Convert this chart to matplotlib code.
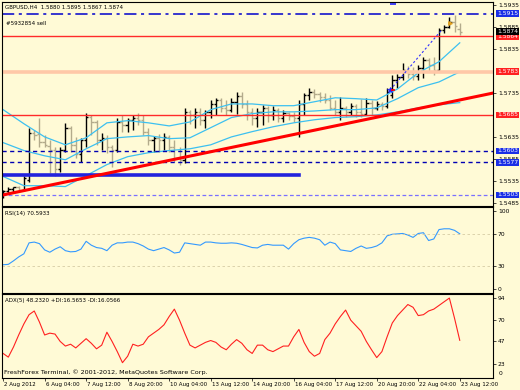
import matplotlib
matplotlib.use('Agg')
import matplotlib.pyplot as plt
import matplotlib.transforms as mtransforms
import numpy as np

# ---- data (GBPUSD, H4) ----
opens = [1.5502, 1.5513, 1.5517, 1.5520, 1.5515, 1.5538, 1.5645, 1.5642, 1.5624, 1.5615,
         1.5606, 1.5561, 1.5606, 1.5656, 1.5617, 1.5595, 1.5629, 1.5681, 1.5669, 1.5629,
         1.5633, 1.5611, 1.5606, 1.5669, 1.5663, 1.5674, 1.5679, 1.5674, 1.5647, 1.5629,
         1.5633, 1.5629, 1.5635, 1.5611, 1.5588, 1.5583, 1.5692, 1.5685, 1.5692, 1.5674,
         1.5692, 1.5710, 1.5719, 1.5701, 1.5697, 1.5715, 1.5729, 1.5710, 1.5692, 1.5679,
         1.5692, 1.5701, 1.5685, 1.5697, 1.5679, 1.5690, 1.5683, 1.5679, 1.5710, 1.5731,
         1.5738, 1.5733, 1.5726, 1.5719, 1.5701, 1.5692, 1.5701, 1.5692, 1.5706, 1.5692,
         1.5688, 1.5713, 1.5701, 1.5710, 1.5706, 1.5731, 1.5765, 1.5772, 1.5788, 1.5778,
         1.5774, 1.5792, 1.5810, 1.5799, 1.5788, 1.5878, 1.5885, 1.5896, 1.5880]
highs = [1.5515, 1.5520, 1.5522, 1.5524, 1.5547, 1.5656, 1.5651, 1.5679, 1.5640, 1.5629,
         1.5613, 1.5613, 1.5667, 1.5660, 1.5635, 1.5633, 1.5690, 1.5685, 1.5674, 1.5645,
         1.5640, 1.5617, 1.5679, 1.5685, 1.5679, 1.5685, 1.5690, 1.5685, 1.5656, 1.5638,
         1.5642, 1.5645, 1.5640, 1.5629, 1.5611, 1.5701, 1.5697, 1.5701, 1.5701, 1.5697,
         1.5719, 1.5724, 1.5724, 1.5719, 1.5724, 1.5738, 1.5738, 1.5719, 1.5701, 1.5701,
         1.5708, 1.5706, 1.5706, 1.5701, 1.5697, 1.5692, 1.5692, 1.5719, 1.5735, 1.5747,
         1.5744, 1.5738, 1.5735, 1.5731, 1.5719, 1.5726, 1.5706, 1.5713, 1.5710, 1.5722,
         1.5724, 1.5719, 1.5717, 1.5715, 1.5747, 1.5776, 1.5778, 1.5803, 1.5797, 1.5794,
         1.5799, 1.5817, 1.5815, 1.5817, 1.5883, 1.5890, 1.5908, 1.5912, 1.5895]
lows = [1.5497, 1.5504, 1.5508, 1.5511, 1.5513, 1.5533, 1.5629, 1.5613, 1.5613, 1.5554,
        1.5545, 1.5556, 1.5601, 1.5601, 1.5588, 1.5579, 1.5611, 1.5640, 1.5617, 1.5606,
        1.5599, 1.5567, 1.5601, 1.5647, 1.5647, 1.5651, 1.5663, 1.5640, 1.5617, 1.5601,
        1.5601, 1.5606, 1.5601, 1.5579, 1.5572, 1.5576, 1.5665, 1.5656, 1.5663, 1.5656,
        1.5679, 1.5685, 1.5692, 1.5685, 1.5692, 1.5688, 1.5701, 1.5674, 1.5663, 1.5658,
        1.5663, 1.5669, 1.5674, 1.5669, 1.5669, 1.5674, 1.5669, 1.5635, 1.5685, 1.5719,
        1.5724, 1.5715, 1.5713, 1.5697, 1.5685, 1.5674, 1.5681, 1.5685, 1.5681, 1.5681,
        1.5685, 1.5685, 1.5697, 1.5697, 1.5701, 1.5724, 1.5747, 1.5765, 1.5769, 1.5765,
        1.5765, 1.5769, 1.5783, 1.5776, 1.5783, 1.5871, 1.5883, 1.5874, 1.5867]
closes = [1.5513, 1.5517, 1.5520, 1.5515, 1.5542, 1.5645, 1.5640, 1.5624, 1.5617, 1.5606,
          1.5561, 1.5606, 1.5656, 1.5617, 1.5595, 1.5629, 1.5681, 1.5669, 1.5629, 1.5633,
          1.5611, 1.5606, 1.5669, 1.5663, 1.5674, 1.5679, 1.5674, 1.5647, 1.5629, 1.5633,
          1.5629, 1.5635, 1.5611, 1.5588, 1.5583, 1.5692, 1.5685, 1.5692, 1.5674, 1.5692,
          1.5710, 1.5719, 1.5701, 1.5697, 1.5715, 1.5729, 1.5710, 1.5692, 1.5679, 1.5692,
          1.5701, 1.5685, 1.5697, 1.5679, 1.5690, 1.5683, 1.5679, 1.5710, 1.5731, 1.5738,
          1.5733, 1.5726, 1.5719, 1.5701, 1.5692, 1.5701, 1.5692, 1.5706, 1.5692, 1.5688,
          1.5713, 1.5701, 1.5710, 1.5706, 1.5738, 1.5765, 1.5772, 1.5788, 1.5778, 1.5774,
          1.5792, 1.5810, 1.5799, 1.5788, 1.5878, 1.5885, 1.5896, 1.5887, 1.5874]

# three light blue averages, sampled every 4 bars
band_bars = [0, 4, 8, 12, 16, 20, 24, 28, 32, 36, 40, 44, 48, 52, 56, 60, 64, 68, 72, 76, 80, 84, 88]
band_upper = [1.5697, 1.5665, 1.5635, 1.5617, 1.5633, 1.5667, 1.5672, 1.5667, 1.5660, 1.5669,
              1.5697, 1.5710, 1.5710, 1.5706, 1.5706, 1.5715, 1.5724, 1.5722, 1.5719, 1.5744,
              1.5781, 1.5806, 1.5849]
band_mid = [1.5622, 1.5604, 1.5592, 1.5583, 1.5608, 1.5631, 1.5635, 1.5638, 1.5631, 1.5633,
            1.5656, 1.5679, 1.5688, 1.5692, 1.5692, 1.5694, 1.5697, 1.5697, 1.5701, 1.5722,
            1.5747, 1.5760, 1.5783]
band_lower = [1.5545, 1.5524, 1.5524, 1.5522, 1.5547, 1.5572, 1.5590, 1.5599, 1.5604, 1.5608,
              1.5617, 1.5635, 1.5647, 1.5658, 1.5667, 1.5674, 1.5679, 1.5681, 1.5685, 1.5692,
              1.5701, 1.5708, 1.5713]

rsi = [31, 31.5, 36, 41, 45, 59, 60, 58, 50, 47,
       51, 54, 49, 47.5, 48, 51, 61, 56, 53, 52,
       49, 56, 59, 59, 60, 60, 58, 55, 51, 49,
       51, 53, 50, 46, 47, 59, 58, 57, 56, 60,
       60, 59, 58.5, 58.5, 59, 58.5, 57, 55, 53, 52.5,
       56, 57, 56, 56, 56, 51, 58, 63, 65, 66,
       65, 63, 56, 60, 58, 50, 49, 48, 52, 55,
       52, 53, 55, 59, 68, 70, 70.5, 71, 69, 66,
       71, 72, 62, 64, 76, 77, 77, 75, 70.59]

adx = [34, 30, 41, 54, 66, 76, 80, 68, 54, 56,
       55, 47, 42, 44, 40, 45, 50, 45, 39, 43,
       57, 47, 36, 24, 31, 44, 42, 44, 52, 56,
       60, 65, 74, 82, 70, 56, 43, 40, 43, 46,
       48, 46, 41, 38, 44, 49, 45, 38, 34, 43,
       43, 38, 36, 39, 42, 42, 52, 60, 46, 36,
       31, 34, 49, 56, 66, 74, 81, 70, 64, 58,
       47, 38, 29.5, 36, 52, 67, 75, 81, 87, 84,
       75, 76, 80, 82, 86, 90, 94, 72, 48.23]

time_bars = [0, 8, 16, 24, 32, 40, 48, 56, 64, 72, 80, 88]
time_labels = ['2 Aug 2012', '6 Aug 04:00', '7 Aug 12:00', '8 Aug 20:00', '10 Aug 04:00',
               '13 Aug 12:00', '14 Aug 20:00', '16 Aug 04:00', '17 Aug 12:00',
               '20 Aug 20:00', '22 Aug 04:00', '23 Aug 12:00']

price_ticks = [1.5935, 1.5885, 1.5835, 1.5735, 1.5635, 1.5585, 1.5535, 1.5485]

order_level = 1.5915
red_levels = [1.5864, 1.5685]
salmon_level = 1.5783
blue_dashed_levels = [1.5603, 1.5577]
support_level = 1.5549
support_end_bar = 57
purple_level = 1.5503
trend_pts = [(0, 1.5503), (88, 1.5719)]
trade_line = [(74.6, 1.5742), (84.5, 1.5878)]

BG = '#fffad6'
FS = 3.95      # small terminal text
FS_AX = 4.3    # price scale

plt.rcParams['font.family'] = 'DejaVu Sans'
fig = plt.figure(figsize=(5.2, 3.9), dpi=100, facecolor=BG)
ax = fig.add_axes([0.004, 0.472, 0.944, 0.523])
ax_rsi = fig.add_axes([0.004, 0.249, 0.944, 0.2205])
ax_adx = fig.add_axes([0.004, 0.031, 0.944, 0.2154])

x = np.arange(len(closes))
o = np.array(opens); h = np.array(highs); l = np.array(lows); c = np.array(closes)

for a in (ax, ax_rsi, ax_adx):
    a.set_facecolor(BG)
    a.set_xlim(-0.2, 94.4)
    for s in a.spines.values():
        s.set_color('black')
        s.set_linewidth(0.8)
    a.yaxis.tick_right()
    a.tick_params(axis='y', length=2, width=0.5, labelsize=FS_AX, pad=1.5)
    a.tick_params(axis='x', bottom=False, labelbottom=False)

# ---- price panel ----
ax.set_ylim(1.5478, 1.5942)
up = c >= o
for colour, m in (('black', up), ('#b3ab8c', ~up)):
    ax.vlines(x[m], l[m], h[m], color=colour, lw=1.0)
    ax.hlines(o[m], x[m] - 0.45, x[m], color=colour, lw=1.0)
    ax.hlines(c[m], x[m], x[m] + 0.45, color=colour, lw=1.0)

for band in (band_upper, band_mid, band_lower):
    ax.plot(band_bars, band, color='#3cc0f0', lw=0.9)

ax.axhline(order_level, color='#0000cc', lw=1.1, ls=(0, (8, 3, 2, 3)))
for lv in red_levels:
    ax.axhline(lv, color='#ff2a2a', lw=1.0)
ax.axhline(salmon_level, color='#ffc8a8', lw=2.6)
for lv in blue_dashed_levels:
    ax.axhline(lv, color='#0000b4', lw=1.0, ls=(0, (3, 2.5)))
ax.axhline(purple_level, color='#7a70ff', lw=0.9, ls=(0, (3, 2)))
ax.plot([-1, support_end_bar], [support_level, support_level], color='#2222dd', lw=2.6)
ax.axline(trend_pts[0], trend_pts[1], color='#ff0000', lw=2.2)

tx, ty = zip(*trade_line)
ax.plot(tx, ty, color='#3030ff', lw=0.8, ls=(0, (2, 2)))
ax.plot(tx[0], ty[0], marker='*', color='#2020ff', ms=4, mew=0.5)
ax.plot(tx[0] + 0.6, ty[0], marker='_', color='red', ms=3, mew=1.2)
ax.plot(86.1, 1.5894, marker='>', color='#e0a020', ms=2.5)
ax.plot(75.1, 1.5938, marker='_', color='#2020ff', ms=4, mew=1.2)

ax.set_yticks(price_ticks)
ax.set_yticklabels(['%.4f' % p for p in price_ticks])

trans = mtransforms.blended_transform_factory(ax.transAxes, ax.transData)
tags = [(order_level, '#1a2ee6'), (red_levels[0], '#ff2020'), (salmon_level, '#ff2020'),
        (red_levels[1], '#ff2020'), (blue_dashed_levels[0], '#1a2ee6'),
        (blue_dashed_levels[1], '#1a2ee6'), (purple_level, '#1a2ee6'), (closes[-1], 'black')]
for lv, col in tags:
    ax.text(1.008, lv, '%.4f' % lv, transform=trans, fontsize=FS_AX, color='white',
            va='center', ha='left', clip_on=False, zorder=5,
            bbox=dict(boxstyle='square,pad=0.15', fc=col, ec='none'))

ax.text(0.006, 0.985, 'GBPUSD,H4  1.5880 1.5895 1.5867 1.5874', transform=ax.transAxes,
        fontsize=FS, va='top', ha='left')
ax.text(0.008, 0.905, '#5932854 sell', transform=ax.transAxes, fontsize=FS, va='top', ha='left')

# ---- RSI panel ----
ax_rsi.set_ylim(-5, 105)
ax_rsi.plot(x, rsi, color='#3399ff', lw=0.8)
for lv in (70, 30):
    ax_rsi.axhline(lv, color='#d6cca4', lw=0.6, ls=(0, (3, 3)))
ax_rsi.set_yticks([100, 70, 30, 0])
ax_rsi.set_yticklabels(['100', '70', '30', '0'])
ax_rsi.text(0.006, 0.95, 'RSI(14) 70.5933', transform=ax_rsi.transAxes, fontsize=FS,
            va='top', ha='left')

# ---- ADX panel ----
ax_adx.set_ylim(7.5, 98.5)
ax_adx.plot(x, adx, color='#ff2020', lw=0.8)
ax_adx.set_yticks([94, 70, 47, 23])
ax_adx.set_yticklabels(['94', '70', '47', '23'])
ax_adx.text(1.012, 0.05, '0', transform=ax_adx.transAxes, fontsize=FS_AX, va='center', ha='left')
ax_adx.text(0.006, 0.95, 'ADX(5) 48.2320 +DI:16.5653 -DI:16.0566', transform=ax_adx.transAxes,
            fontsize=FS, va='top', ha='left')
ax_adx.text(0.004, 0.03, 'FreshForex Terminal, \u00a9 2001-2012, MetaQuotes Software Corp.',
            transform=ax_adx.transAxes, fontsize=4.6, va='bottom', ha='left')

ax_adx.set_xticks(time_bars)
ax_adx.tick_params(axis='x', bottom=True, length=2.5, width=0.5, labelbottom=False)
tx_trans = mtransforms.blended_transform_factory(ax_adx.transData, ax_adx.transAxes)
for b, lab in zip(time_bars, time_labels):
    ax_adx.text(b + 0.2, -0.075, lab, transform=tx_trans, fontsize=FS, va='center', ha='left',
                clip_on=False)

fig.savefig('out.png', dpi=100, facecolor=BG)
